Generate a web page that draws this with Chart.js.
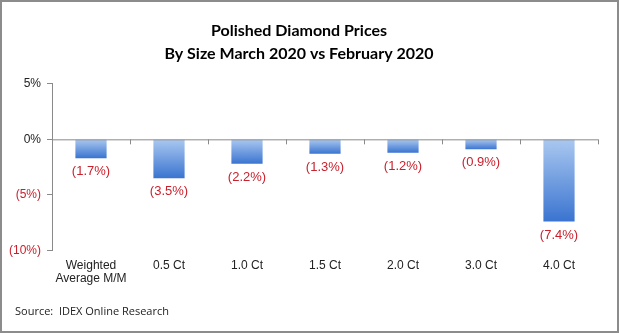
<!DOCTYPE html>
<html>
<head>
<meta charset="utf-8">
<script src="https://cdn.jsdelivr.net/npm/chart.js@4/dist/chart.umd.min.js"></script>
<style>
  html, body { margin: 0; padding: 0; background: #fff; }
  #wrap { width: 619px; height: 333px; }
</style>
</head>
<body>
<div id="wrap"><canvas id="priceChart"></canvas></div>
<script>
const categories = [['Weighted', 'Average M/M'], '0.5 Ct', '1.0 Ct', '1.5 Ct', '2.0 Ct', '3.0 Ct', '4.0 Ct'];
const changes = [-1.7, -3.5, -2.2, -1.3, -1.2, -0.9, -7.4];
const yTicks = [5, 0, -5, -10];
const titleLines = ['Polished Diamond Prices', 'By Size March 2020 vs February 2020'];
const sourceText = 'Source:  IDEX Online Research';

const RED = '#c8202c';

function fmtPct(v) {
    const s = Math.abs(v).toFixed(Number.isInteger(v) ? 0 : 1) + '%';
    return v < 0 ? '(' + s + ')' : s;
}

// blue fade, light at the zero line and darker at the bar end
function barFill(context) {
    const chart = context.chart;
    const y = chart.scales.y;
    if (!chart.chartArea || !y) return '#5b8fdc';
    const v = context.raw;
    const y0 = y.getPixelForValue(0);
    const y1 = y.getPixelForValue(v);
    if (y0 === y1) return '#5b8fdc';
    const g = chart.ctx.createLinearGradient(0, y0, 0, y1);
    g.addColorStop(0, '#aac8f0');
    g.addColorStop(1, '#3a74d0');
    return g;
}

const frame = {
    id: 'frame',
    beforeDraw(chart) {
        const ctx = chart.ctx;
        ctx.save();
        ctx.fillStyle = '#fff';
        ctx.fillRect(0, 0, chart.width, chart.height);
        ctx.strokeStyle = '#8c8c8c';
        ctx.lineWidth = 2;
        ctx.strokeRect(1, 1, chart.width - 2, chart.height - 2);
        ctx.restore();
    },
    afterDraw(chart) {
        const ctx = chart.ctx;
        ctx.save();
        ctx.fillStyle = '#222';
        ctx.font = '11px "Open Sans", sans-serif';
        ctx.textBaseline = 'middle';
        ctx.fillText(sourceText, 15, 312);
        ctx.restore();
    }
};

// zero axis line with category separators, plus value labels under bars
const zeroAxis = {
    id: 'zeroAxis',
    afterDatasetsDraw(chart) {
        const ctx = chart.ctx;
        const x = chart.scales.x;
        const y = chart.scales.y;
        const y0 = y.getPixelForValue(0);
        ctx.save();
        ctx.strokeStyle = '#8a8a8a';
        ctx.lineWidth = 1;
        ctx.beginPath();
        ctx.moveTo(chart.chartArea.left, y0 + 0.5);
        ctx.lineTo(chart.chartArea.right, y0 + 0.5);
        const n = categories.length;
        const step = (chart.chartArea.right - chart.chartArea.left) / n;
        for (let i = 1; i <= n; i++) {
            const px = Math.round(x.getPixelForValue(i - 1) + step / 2) + 0.5;
            ctx.moveTo(px, y0);
            ctx.lineTo(px, y0 + 5);
        }
        ctx.stroke();

        ctx.fillStyle = RED;
        ctx.font = '13px "Liberation Sans", Arial, sans-serif';
        ctx.textAlign = 'center';
        ctx.textBaseline = 'top';
        chart.getDatasetMeta(0).data.forEach((bar, i) => {
            ctx.fillText(fmtPct(changes[i]), bar.x, bar.y + 7);
        });
        ctx.restore();
    }
};

new Chart(document.getElementById('priceChart'), {
    type: 'bar',
    data: {
        labels: categories,
        datasets: [{
            data: changes,
            backgroundColor: barFill,
            borderWidth: 0,
            barPercentage: 0.5,
            categoryPercentage: 0.8
        }]
    },
    options: {
        responsive: true,
        maintainAspectRatio: false,
        animation: false,
        layout: { padding: { left: 0, right: 21, top: 6, bottom: 47 } },
        plugins: {
            legend: { display: false },
            tooltip: { enabled: false },
            title: {
                display: true,
                text: titleLines,
                color: '#000',
                font: { family: 'Lato, sans-serif', size: 16, weight: 'bold', lineHeight: 1.4 },
                padding: { top: 14, bottom: 19 }
            }
        },
        scales: {
            x: {
                grid: { display: false },
                border: { display: false },
                ticks: {
                    color: '#222',
                    font: { family: '"Liberation Sans", Arial, sans-serif', size: 12, lineHeight: 1.15 },
                    maxRotation: 0,
                    autoSkip: false,
                    padding: 0
                }
            },
            y: {
                min: -10,
                max: 5,
                afterBuildTicks(scale) {
                    scale.ticks = yTicks.map(v => ({ value: v }));
                },
                afterFit(scale) {
                    scale.width = 52;
                },
                border: { display: true, color: '#8a8a8a' },
                grid: {
                    drawOnChartArea: false,
                    drawTicks: true,
                    tickLength: 5,
                    color: '#8a8a8a'
                },
                ticks: {
                    padding: 6,
                    font: { family: '"Liberation Sans", Arial, sans-serif', size: 12 },
                    color: ctx => ctx.tick && ctx.tick.value < 0 ? RED : '#222',
                    callback: v => fmtPct(v)
                }
            }
        }
    },
    plugins: [frame, zeroAxis]
});
</script>
</body>
</html>
